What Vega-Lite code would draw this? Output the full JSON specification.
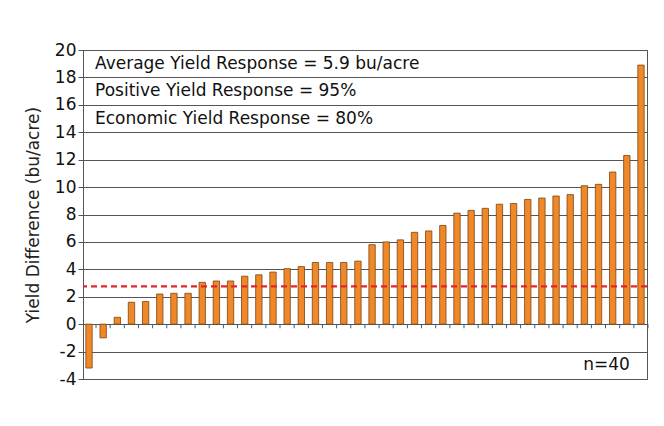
{
  "$schema": "https://vega.github.io/schema/vega-lite/v6.json",
  "width": 564,
  "height": 329,
  "autosize": {"type": "none"},
  "padding": {"left": 83, "top": 50, "right": 17, "bottom": 47},
  "background": "white",
  "config": {
    "view": {"stroke": "#555555", "strokeWidth": 1},
    "font": "DejaVu Sans",
    "axisX": {"labels": false, "domain": false, "ticks": false, "grid": false},
    "axisY": {
      "titleFontSize": 17, "titleFontWeight": "normal", "titleColor": "#222222", "titlePadding": 12,
      "values": [-4, -2, 0, 2, 4, 6, 8, 10, 12, 14, 16, 18, 20],
      "labelExpr": "toString(datum.value)", "labelOverlap": false,
      "labelFontSize": 17, "labelColor": "#111111", "labelPadding": 2,
      "grid": true, "gridColor": "#555555", "gridWidth": 1, "gridOpacity": 1,
      "domain": true, "domainColor": "#555555", "tickColor": "#555555", "tickSize": 5
    }
  },
  "datasets": {
    "bars": [
      {"site": 1, "diff": -3.2}, {"site": 2, "diff": -1.0}, {"site": 3, "diff": 0.5}, {"site": 4, "diff": 1.6},
      {"site": 5, "diff": 1.65}, {"site": 6, "diff": 2.2}, {"site": 7, "diff": 2.25}, {"site": 8, "diff": 2.25},
      {"site": 9, "diff": 3.05}, {"site": 10, "diff": 3.15}, {"site": 11, "diff": 3.15}, {"site": 12, "diff": 3.5},
      {"site": 13, "diff": 3.6}, {"site": 14, "diff": 3.8}, {"site": 15, "diff": 4.05}, {"site": 16, "diff": 4.2},
      {"site": 17, "diff": 4.5}, {"site": 18, "diff": 4.5}, {"site": 19, "diff": 4.5}, {"site": 20, "diff": 4.6},
      {"site": 21, "diff": 5.8}, {"site": 22, "diff": 6.0}, {"site": 23, "diff": 6.15}, {"site": 24, "diff": 6.7},
      {"site": 25, "diff": 6.8}, {"site": 26, "diff": 7.2}, {"site": 27, "diff": 8.1}, {"site": 28, "diff": 8.3},
      {"site": 29, "diff": 8.45}, {"site": 30, "diff": 8.75}, {"site": 31, "diff": 8.8}, {"site": 32, "diff": 9.1},
      {"site": 33, "diff": 9.2}, {"site": 34, "diff": 9.35}, {"site": 35, "diff": 9.45}, {"site": 36, "diff": 10.1},
      {"site": 37, "diff": 10.2}, {"site": 38, "diff": 11.1}, {"site": 39, "diff": 12.3}, {"site": 40, "diff": 18.9}
    ],
    "threshold": [{"level": 2.75}],
    "notes": [
      {"site": 1, "y": 19, "label": "Average Yield Response = 5.9 bu/acre"},
      {"site": 1, "y": 17, "label": "Positive Yield Response = 95%"},
      {"site": 1, "y": 15, "label": "Economic Yield Response = 80%"}
    ],
    "count": [{"site": 39, "y": -3, "label": "n=40"}]
  },
  "layer": [
    {
      "data": {"name": "bars"},
      "mark": {"type": "bar", "color": "#F0882A", "stroke": "#7A4510", "strokeWidth": 0.8},
      "encoding": {
        "x": {
          "field": "site", "type": "ordinal", "title": null,
          "scale": {"paddingInner": 0.55, "paddingOuter": 0.2}
        },
        "y": {
          "field": "diff", "type": "quantitative", "title": "Yield Difference (bu/acre)",
          "scale": {"domain": [-4, 20], "nice": false, "zero": false}
        }
      }
    },
    {
      "data": {"name": "bars"},
      "mark": {"type": "rule", "color": "#3A5A8C", "strokeWidth": 1, "xOffset": 7},
      "encoding": {
        "x": {"field": "site", "type": "ordinal", "title": null},
        "y": {"datum": 0},
        "y2": {"datum": -0.3}
      }
    },
    {
      "data": {"name": "threshold"},
      "mark": {"type": "rule", "color": "#E3242B", "strokeWidth": 2.2, "strokeDash": [6, 4]},
      "encoding": {"y": {"field": "level", "type": "quantitative", "title": "Yield Difference (bu/acre)"}}
    },
    {
      "data": {"name": "notes"},
      "mark": {"type": "text", "align": "left", "baseline": "middle", "dx": 6, "fontSize": 17, "color": "#111111"},
      "encoding": {
        "x": {"field": "site", "type": "ordinal", "title": null},
        "y": {"field": "y", "type": "quantitative", "title": "Yield Difference (bu/acre)"},
        "text": {"field": "label"}
      }
    },
    {
      "data": {"name": "count"},
      "mark": {"type": "text", "align": "right", "baseline": "middle", "dx": 3, "fontSize": 17, "color": "#111111"},
      "encoding": {
        "x": {"field": "site", "type": "ordinal", "title": null},
        "y": {"field": "y", "type": "quantitative", "title": "Yield Difference (bu/acre)"},
        "text": {"field": "label"}
      }
    }
  ]
}
